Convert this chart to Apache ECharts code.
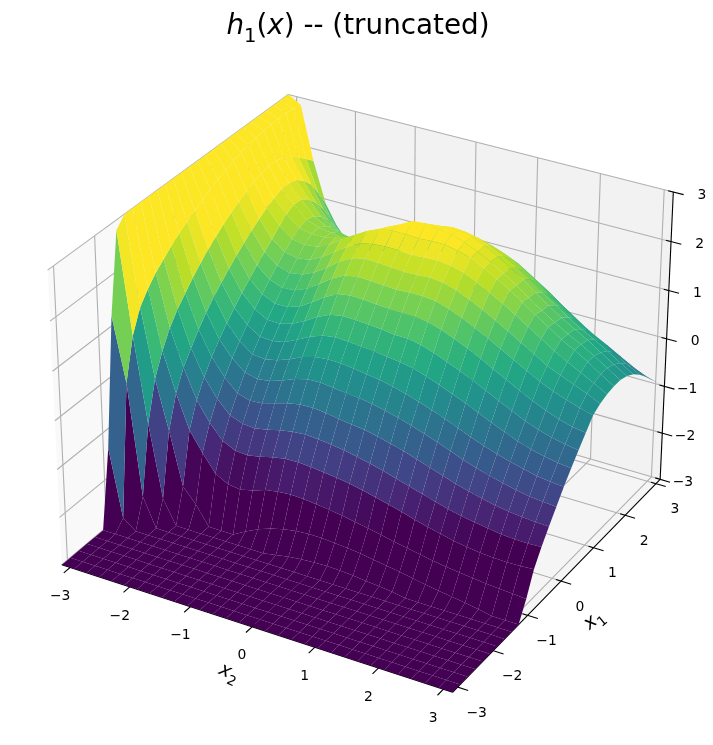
<!DOCTYPE html>
<html><head><meta charset="utf-8">
<style>html,body{margin:0;padding:0;background:#fff}#main{width:713px;height:745px}</style>
<script src="https://cdn.jsdelivr.net/npm/echarts@6/dist/echarts.min.js"></script>
</head><body><div id="main"></div>
<script>
const titleText = '{i|h}{s|1}({i|x}) -- (truncated)';
const tickValues = [-3,-2,-1,0,1,2,3];
const gridX2 = [-3.14,-2.93,-2.72,-2.51,-2.30,-2.09,-1.88,-1.67,-1.47,-1.26,-1.05,-0.84,-0.63,-0.42,-0.21,0,0.21,0.42,0.63,0.84,1.05,1.26,1.47,1.67,1.88,2.09,2.30,2.51,2.72,2.93,3.14];
const gridX1 = gridX2.slice();
// surface heights, one row per x1 value (front to back), one entry per x2 value (left to right)
const heightRows = [
[-3,-3,-3,-3,-3,-3,-3,-3,-3,-3,-3,-3,-3,-3,-3,-3,-3,-3,-3,-3,-3,-3,-3,-3,-3,-3,-3,-3,-3,-3,-3],
[-3,-3,-3,-3,-3,-3,-3,-3,-3,-3,-3,-3,-3,-3,-3,-3,-3,-3,-3,-3,-3,-3,-3,-3,-3,-3,-3,-3,-3,-3,-3],
[-3,-3,-3,-3,-3,-3,-3,-3,-3,-3,-3,-3,-3,-3,-3,-3,-3,-3,-3,-3,-3,-3,-3,-3,-3,-3,-3,-3,-3,-3,-3],
[-3,-3,-3,-3,-3,-3,-3,-3,-3,-3,-3,-3,-3,-3,-3,-3,-3,-3,-3,-3,-3,-3,-3,-3,-3,-3,-3,-3,-3,-3,-3],
[-3,-3,-3,-3,-3,-3,-3,-3,-3,-3,-3,-3,-3,-3,-3,-3,-3,-3,-3,-3,-3,-3,-3,-3,-3,-3,-3,-3,-3,-3,-3],
[-3,-3,-3,-3,-3,-3,-3,-3,-3,-3,-3,-3,-3,-3,-3,-3,-3,-3,-3,-3,-3,-3,-3,-3,-3,-3,-3,-3,-3,-3,-3],
[-1.4,-2.8,-3,-3,-3,-3,-3,-3,-3,-3,-3,-3,-3,-3,-3,-3,-3,-3,-3,-3,-3,-3,-3,-3,-3,-3,-3,-3,-3,-3,-3],
[1.2,-0.1,-2.4,-3,-3,-3,-3,-3,-3,-3,-3,-3,-3,-3,-3,-3,-3,-3,-3,-3,-3,-3,-3,-3,-3,-3,-3,-3,-3,-3,-3],
[2.8,0.75,-1,-2.5,-3,-3,-3,-3,-3,-3,-3,-3,-2.95,-2.9,-2.87,-2.85,-2.84,-2.85,-2.87,-2.9,-2.92,-2.95,-3,-3,-3,-3,-3,-3,-3,-3,-3],
[3,1.2,-0.2,-1.2,-2.3,-2.6,-3,-3,-3,-2.85,-2.72,-2.62,-2.55,-2.5,-2.48,-2.48,-2.5,-2.52,-2.55,-2.6,-2.64,-2.68,-2.73,-2.78,-2.82,-2.86,-2.9,-2.95,-3,-3,-3],
[3,1.45,0.25,-0.55,-1.25,-1.65,-2,-2.15,-2.18,-2.12,-2.03,-1.98,-1.96,-1.97,-2.0,-2.03,-2.07,-2.12,-2.17,-2.22,-2.28,-2.33,-2.38,-2.43,-2.47,-2.5,-2.53,-2.56,-2.58,-2.6,-2.62],
[3,1.65,0.6,-0.15,-0.75,-1.15,-1.45,-1.58,-1.6,-1.55,-1.48,-1.43,-1.42,-1.44,-1.47,-1.5,-1.54,-1.6,-1.66,-1.73,-1.8,-1.88,-1.95,-2.01,-2.07,-2.12,-2.15,-2.17,-2.18,-2.17,-2.15],
[3,1.8,0.85,0.12,-0.4,-0.78,-1.05,-1.15,-1.17,-1.12,-1.05,-1.0,-0.98,-1.0,-1.03,-1.07,-1.12,-1.18,-1.25,-1.33,-1.41,-1.49,-1.57,-1.64,-1.7,-1.75,-1.79,-1.83,-1.85,-1.85,-1.84],
[3,1.95,1.05,0.38,-0.12,-0.47,-0.72,-0.8,-0.78,-0.7,-0.62,-0.57,-0.56,-0.59,-0.63,-0.67,-0.7,-0.76,-0.83,-0.9,-0.99,-1.08,-1.17,-1.26,-1.33,-1.4,-1.46,-1.5,-1.53,-1.55,-1.56],
[3,2.08,1.25,0.6,0.12,-0.2,-0.42,-0.48,-0.45,-0.36,-0.25,-0.18,-0.17,-0.2,-0.24,-0.26,-0.3,-0.36,-0.43,-0.51,-0.6,-0.7,-0.8,-0.9,-0.99,-1.07,-1.14,-1.2,-1.25,-1.28,-1.3],
[3,2.2,1.42,0.8,0.33,0.03,-0.17,-0.2,-0.15,-0.05,0.07,0.15,0.18,0.17,0.14,0.1,0.06,0,-0.07,-0.16,-0.25,-0.35,-0.46,-0.57,-0.67,-0.76,-0.84,-0.91,-0.97,-1.01,-1.03],
[3,2.3,1.58,0.97,0.52,0.24,0.07,0.05,0.1,0.22,0.36,0.46,0.5,0.49,0.46,0.44,0.4,0.37,0.32,0.23,0.13,0.02,-0.09,-0.21,-0.33,-0.44,-0.56,-0.64,-0.71,-0.76,-0.79],
[3,2.4,1.72,1.13,0.7,0.44,0.29,0.28,0.35,0.48,0.64,0.76,0.81,0.8,0.78,0.76,0.72,0.72,0.67,0.58,0.47,0.36,0.24,0.11,-0.02,-0.15,-0.28,-0.38,-0.46,-0.52,-0.56],
[3,2.5,1.85,1.28,0.86,0.62,0.5,0.5,0.58,0.74,0.92,1.06,1.1,1.09,1.07,1.05,1.04,1.04,1.0,0.92,0.81,0.69,0.56,0.42,0.28,0.13,0,-0.12,-0.22,-0.3,-0.34],
[3,2.58,1.97,1.42,1.02,0.8,0.7,0.72,0.82,0.99,1.18,1.31,1.36,1.35,1.33,1.31,1.33,1.33,1.3,1.22,1.11,0.98,0.84,0.7,0.55,0.4,0.26,0.14,0.04,-0.05,-0.12],
[3,2.65,2.07,1.55,1.17,0.97,0.88,0.92,1.03,1.2,1.4,1.54,1.6,1.59,1.57,1.55,1.56,1.58,1.55,1.47,1.35,1.22,1.08,0.93,0.77,0.61,0.45,0.33,0.22,0.11,-0.02],
[3,2.72,2.17,1.67,1.32,1.12,1.06,1.1,1.22,1.4,1.58,1.72,1.78,1.8,1.8,1.77,1.79,1.8,1.77,1.7,1.58,1.44,1.29,1.13,0.96,0.79,0.62,0.47,0.33,0.19,0.04],
[3,2.78,2.25,1.78,1.47,1.27,1.22,1.25,1.36,1.54,1.7,1.85,1.97,2,2,1.98,2,2,1.95,1.87,1.74,1.59,1.43,1.26,1.08,0.9,0.72,0.58,0.42,0.24,0.07],
[3,2.82,2.3,1.86,1.6,1.38,1.33,1.33,1.4,1.47,1.62,1.73,1.89,2.01,2.15,2.17,2.12,2.08,2,1.88,1.74,1.58,1.41,1.23,1.04,0.87,0.71,0.57,0.41,0.24,0.07],
[3,2.85,2.34,1.93,1.68,1.43,1.34,1.3,1.24,1.38,1.5,1.65,1.78,1.9,1.98,2.02,2.05,2.04,1.99,1.88,1.73,1.57,1.4,1.21,1.01,0.84,0.68,0.53,0.35,0.18,0.02],
[3,2.88,2.33,1.93,1.66,1.38,1.25,1.2,1.13,1.27,1.4,1.55,1.67,1.77,1.85,1.88,1.92,1.9,1.84,1.73,1.6,1.45,1.28,1.08,0.9,0.72,0.55,0.41,0.25,0.08,-0.08],
[3,2.9,2.28,1.88,1.55,1.25,1.1,0.92,1.03,1.17,1.3,1.46,1.56,1.64,1.69,1.72,1.74,1.7,1.64,1.55,1.44,1.27,1.1,0.9,0.72,0.55,0.38,0.24,0.08,-0.08,-0.22],
[3,2.9,2.18,1.75,1.35,1.05,0.85,0.8,0.92,1.05,1.2,1.35,1.43,1.5,1.52,1.5,1.52,1.5,1.44,1.34,1.22,1.05,0.88,0.68,0.5,0.33,0.17,0.03,-0.13,-0.28,-0.4],
[3,2.9,2.05,1.55,1.1,0.8,0.55,0.68,0.8,0.92,1.08,1.18,1.25,1.28,1.28,1.25,1.26,1.25,1.2,1.1,0.97,0.8,0.63,0.44,0.26,0.08,-0.08,-0.21,-0.36,-0.5,-0.6],
[3,2.88,1.9,1.25,0.8,0.5,0.4,0.5,0.6,0.72,0.82,0.9,0.92,0.94,0.96,0.95,0.96,0.95,0.9,0.8,0.67,0.52,0.35,0.16,-0.02,-0.18,-0.33,-0.46,-0.6,-0.72,-0.8],
[3,2.85,1.75,0.9,0.45,0.2,0.12,0.15,0.25,0.33,0.42,0.48,0.52,0.55,0.58,0.6,0.6,0.58,0.52,0.44,0.32,0.18,0.02,-0.15,-0.32,-0.47,-0.6,-0.72,-0.85,-0.93,-1]
];
const viridisStops = ['#440154','#482475','#414487','#355f8d','#2a788e','#21918c','#22a884','#44bf70','#7ad151','#bddf26','#fde725'];

// ---- view: matplotlib's default 3D camera (elev 30, azim -60, dist 10) ----
const LIM = 3.14159, ZLIM = 3, HX = 0.5953, HZ = 0.4465, CAM = 10;
const SCALE = 3760, CX = 366.5, CY = 379;
function camera(x2, x1, z) {
  const X = x2 / LIM * HX, Y = x1 / LIM * HX, Z = z / ZLIM * HZ;
  const xs = 0.8660 * X + 0.5 * Y;
  const ys = -0.25 * X + 0.4330 * Y + 0.8660 * Z;
  const d = 0.4330 * X - 0.75 * Y + 0.5 * Z;
  const k = 1 / (CAM - d);
  return { px: CX + SCALE * xs * k, py: CY - SCALE * ys * k, depth: -CAM * k };
}
function screen(x2, x1, z) { const c = camera(x2, x1, z); return [c.px, c.py]; }
function viridis(t) {
  t = Math.max(0, Math.min(1, t)) * (viridisStops.length - 1);
  const i = Math.min(viridisStops.length - 2, Math.floor(t));
  const f = t - i;
  const a = echarts.color.parse(viridisStops[i]), b = echarts.color.parse(viridisStops[i + 1]);
  return 'rgb(' + [0, 1, 2].map(n => Math.round(a[n] + (b[n] - a[n]) * f)).join(',') + ')';
}

// surface cells, painted far to near
const cells = [];
for (let r = 0; r < gridX1.length - 1; r++) {
  for (let c = 0; c < gridX2.length - 1; c++) {
    const corners = [[r, c], [r, c + 1], [r + 1, c + 1], [r + 1, c]];
    let depth = 0;
    corners.forEach(p => { depth += camera(gridX2[p[1]], gridX1[p[0]], heightRows[p[0]][p[1]]).depth / 4; });
    cells.push({ r, c, depth });
  }
}
cells.sort((a, b) => b.depth - a.depth);

// frame
const L = LIM, Zm = ZLIM;
const panes = [
  { pts: [[-L,-L,-Zm],[-L,L,-Zm],[-L,L,Zm],[-L,-L,Zm]], fill: '#f9f9f9' },
  { pts: [[-L,L,-Zm],[L,L,-Zm],[L,L,Zm],[-L,L,Zm]], fill: '#f2f2f2' },
  { pts: [[-L,-L,-Zm],[L,-L,-Zm],[L,L,-Zm],[-L,L,-Zm]], fill: '#f5f5f5' }
];
const segments = [];
tickValues.forEach(t => {
  segments.push({ a: [t,-L,-Zm], b: [t,L,-Zm], c: '#b0b0b0' }, { a: [t,L,-Zm], b: [t,L,Zm], c: '#b0b0b0' });
  segments.push({ a: [L,t,-Zm], b: [-L,t,-Zm], c: '#b0b0b0' }, { a: [-L,t,-Zm], b: [-L,t,Zm], c: '#b0b0b0' });
  segments.push({ a: [-L,-L,t], b: [-L,L,t], c: '#b0b0b0' }, { a: [-L,L,t], b: [L,L,t], c: '#b0b0b0' });
});
segments.push({ a: [-L,-L,-Zm], b: [L,-L,-Zm], c: '#000' }, { a: [L,-L,-Zm], b: [L,L,-Zm], c: '#000' }, { a: [L,L,-Zm], b: [L,L,Zm], c: '#000' });
const TICK_OUT = 0.16, TICK_IN = 0.08;
tickValues.forEach(t => {
  segments.push({ a: [t,-L+TICK_IN,-Zm], b: [t,-L-TICK_OUT,-Zm], c: '#000' });
  segments.push({ a: [L-TICK_IN,t,-Zm], b: [L+TICK_OUT,t,-Zm], c: '#000' });
  segments.push({ a: [L-TICK_IN,L,t], b: [L+TICK_OUT,L,t], c: '#000' });
});
const labels = [];
const minus = v => (v < 0 ? '\u2212' + (-v) : String(v));
tickValues.forEach(t => {
  const a = screen(t, -L, -Zm); labels.push({ text: minus(t), x: a[0] - 10, y: a[1] + 29, align: 'center' });
  const b = screen(L, t, -Zm); labels.push({ text: minus(t), x: b[0] + 19, y: b[1] + 26, align: 'center' });
  const c = screen(L, L, t); labels.push({ text: minus(t), x: c[0] + 33, y: c[1] + 3, align: 'right' });
});
const x2Anchor = screen(0, -L, -Zm), x1Anchor = screen(L, 0, -Zm);
const axisTitles = [
  { text: '{i|x}{s|2}', x: x2Anchor[0] - 23, y: x2Anchor[1] + 46, rot: -25 * Math.PI / 180 },
  { text: '{i|x}{s|1}', x: x1Anchor[0] + 33, y: x1Anchor[1] + 39, rot: 40 * Math.PI / 180 }
];

const FONT = '"DejaVu Sans"';
const chart = echarts.init(document.getElementById('main'), null, { renderer: 'canvas' });
chart.setOption({
  animation: false,
  backgroundColor: '#fff',
  title: {
    text: titleText, left: 353, top: 2, textAlign: 'center',
    textStyle: { fontFamily: FONT, fontSize: 27.8, fontWeight: 'normal', color: '#000',
      rich: {
        i: { fontFamily: FONT, fontSize: 27.8, fontStyle: 'italic', color: '#000' },
        s: { fontFamily: FONT, fontSize: 19.5, color: '#000', lineHeight: 40, verticalAlign: 'bottom' }
      } }
  },
  grid: { left: 0, right: 0, top: 0, bottom: 0 },
  xAxis: { type: 'value', min: 0, max: 713, show: false },
  yAxis: { type: 'value', min: 0, max: 745, inverse: true, show: false },
  series: [
    { type: 'custom', coordinateSystem: 'cartesian2d', silent: true, z: 1, clip: false, progressive: 0,
      data: panes.map((_, i) => [i, 0]),
      renderItem(params, api) {
        const p = panes[api.value(0)];
        return { type: 'polygon', shape: { points: p.pts.map(q => api.coord(screen(q[0], q[1], q[2]))) }, style: { fill: p.fill } };
      } },
    { type: 'custom', coordinateSystem: 'cartesian2d', silent: true, z: 2, clip: false, progressive: 0,
      data: segments.map((_, i) => [i, 0]),
      renderItem(params, api) {
        const s = segments[api.value(0)];
        const a = api.coord(screen(s.a[0], s.a[1], s.a[2])), b = api.coord(screen(s.b[0], s.b[1], s.b[2]));
        return { type: 'line', shape: { x1: a[0], y1: a[1], x2: b[0], y2: b[1] }, style: { stroke: s.c, lineWidth: 1.1 } };
      } },
    { type: 'custom', coordinateSystem: 'cartesian2d', silent: true, z: 3, clip: false, progressive: 0,
      data: cells.map(c => [c.r, c.c]),
      renderItem(params, api) {
        const r = api.value(0), c = api.value(1);
        const corners = [[r, c], [r, c + 1], [r + 1, c + 1], [r + 1, c]];
        let mean = 0;
        const points = corners.map(p => {
          const z = heightRows[p[0]][p[1]];
          mean += z / 4;
          return api.coord(screen(gridX2[p[1]], gridX1[p[0]], z));
        });
        return { type: 'polygon', shape: { points }, style: { fill: viridis((mean + 2) / 4) } };
      } },
    { type: 'custom', coordinateSystem: 'cartesian2d', silent: true, z: 4, clip: false, progressive: 0,
      data: labels.map((_, i) => [i, 0]),
      renderItem(params, api) {
        const l = labels[api.value(0)];
        const p = api.coord([l.x, l.y]);
        return { type: 'text', x: p[0], y: p[1], style: { text: l.text, fill: '#000', font: '13.9px ' + FONT, align: l.align, verticalAlign: 'middle' } };
      } },
    { type: 'custom', coordinateSystem: 'cartesian2d', silent: true, z: 4, clip: false, progressive: 0,
      data: axisTitles.map((_, i) => [i, 0]),
      renderItem(params, api) {
        const l = axisTitles[api.value(0)];
        const p = api.coord([l.x, l.y]);
        return { type: 'text', x: p[0], y: p[1], rotation: l.rot,
          style: { text: l.text, fill: '#000', fontFamily: FONT, fontSize: 19.4, align: 'center', verticalAlign: 'middle',
            rich: {
              i: { fontFamily: FONT, fontSize: 19.4, fontStyle: 'italic', fill: '#000' },
              s: { fontFamily: FONT, fontSize: 13.6, fill: '#000', lineHeight: 28, verticalAlign: 'bottom' }
            } } };
      } }
  ]
});
</script></body></html>
